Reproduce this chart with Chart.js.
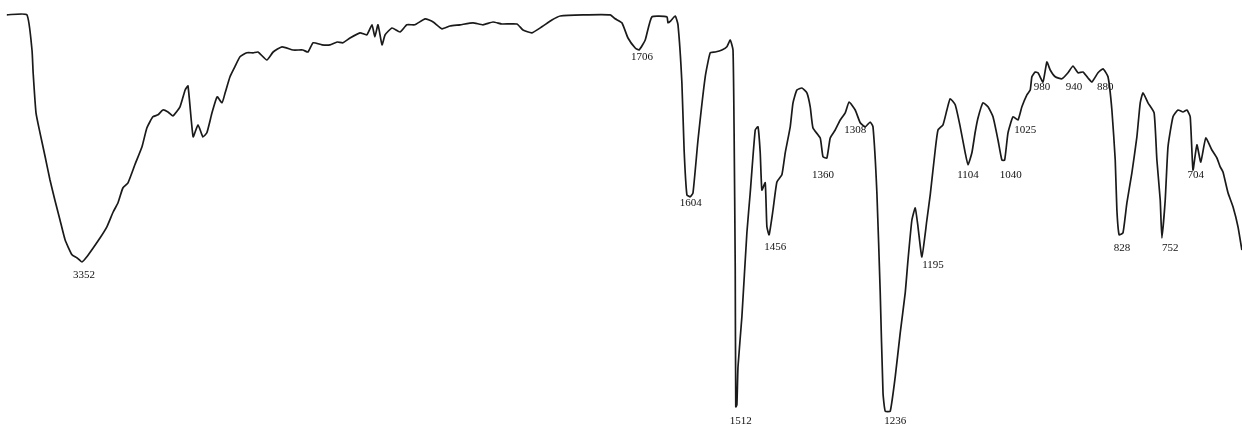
<!DOCTYPE html>
<html>
<head>
<meta charset="utf-8">
<script src="https://cdn.jsdelivr.net/npm/chart.js@4"></script>
<style>
  html, body { margin: 0; padding: 0; background: #fff; }
  #wrap { width: 1242px; height: 426px; }
</style>
</head>
<body>
<div id="wrap"><canvas id="irChart"></canvas></div>
<script>
// wavenumber (cm-1) and transmittance
const wavenumbers = [
  3614, 3544, 3526, 3522, 3512, 3498, 3480, 3463, 3446, 3428, 3410, 3386, 3368, 3351, 3334, 3312,
  3288, 3264, 3242, 3225, 3208, 3190, 3166, 3141, 3124, 3103, 3085, 3068, 3050, 3033, 3008, 2990,
  2980, 2962, 2945, 2928, 2914, 2896, 2878, 2861, 2850, 2833, 2816, 2798, 2774, 2752, 2735, 2704,
  2682, 2651, 2612, 2578, 2560, 2542, 2511, 2483, 2458, 2438, 2413, 2378, 2354, 2336, 2326, 2315,
  2301, 2290, 2266, 2238, 2214, 2186, 2150, 2122, 2091, 2063, 2028, 1991, 1973, 1955, 1939, 1912,
  1901, 1885, 1867, 1849, 1834, 1793, 1744, 1735, 1723, 1712, 1699, 1692, 1681, 1669, 1642, 1640,
  1635, 1627, 1622, 1615, 1611, 1606, 1600, 1595, 1586, 1573, 1564, 1555, 1543, 1534, 1528, 1523,
  1521, 1519, 1518, 1516, 1514, 1507, 1498, 1492, 1483, 1478, 1474, 1471, 1465, 1462, 1458, 1451,
  1444, 1435, 1429, 1420, 1415, 1408, 1399, 1390, 1384, 1379, 1366, 1361, 1354, 1348, 1339, 1330,
  1321, 1314, 1303, 1294, 1285, 1276, 1271, 1264, 1258, 1253, 1249, 1240, 1231, 1222, 1213, 1208,
  1201, 1195, 1190, 1183, 1174, 1168, 1159, 1154, 1145, 1138, 1132, 1123, 1114, 1105, 1100, 1093,
  1087, 1082, 1073, 1064, 1055, 1046, 1039, 1034, 1028, 1019, 1010, 1003, 994, 988, 985, 979,
  974, 965, 958, 952, 943, 931, 920, 911, 902, 893, 884, 877, 866, 857, 848, 841,
  835, 832, 828, 821, 814, 805, 796, 790, 785, 776, 765, 760, 754, 751, 745, 740,
  731, 722, 713, 706, 700, 695, 688, 681, 672, 661, 652, 646, 641, 632, 623, 614, 607
];
const transmittance = [
  98.3, 98.3, 89.5, 83.8, 73.8, 68.8, 62.8, 57.0, 52.0, 47.0, 42.0, 38.3, 37.5, 36.5, 37.8, 40.0,
  42.5, 45.3, 49.0, 51.3, 55.0, 56.3, 60.8, 65.3, 70.0, 72.8, 73.3, 74.5, 74.0, 73.0, 75.3, 79.5,
  80.5, 67.8, 70.8, 67.8, 68.8, 73.8, 77.8, 76.3, 78.8, 82.8, 85.3, 87.8, 88.8, 88.8, 89.0, 87.0,
  89.0, 90.3, 89.5, 89.5, 89.0, 91.3, 90.8, 90.8, 91.5, 91.3, 92.5, 93.8, 93.3, 95.8, 92.8, 95.8,
  90.8, 93.3, 95.0, 94.0, 95.8, 95.8, 97.3, 96.5, 94.8, 95.5, 95.8, 96.3, 95.8, 96.5, 96.0, 96.0,
  94.5, 93.8, 95.3, 97.0, 98.0, 98.3, 98.3, 97.3, 96.3, 92.5, 90.0, 89.5, 92.0, 97.8, 97.8, 96.3,
  96.8, 98.0, 95.8, 81.3, 64.5, 53.3, 52.8, 53.8, 67.0, 82.8, 88.8, 89.0, 89.5, 90.3, 92.0, 89.5,
  68.8, 35.3, 0.3, 0.8, 10.3, 22.8, 43.8, 53.8, 69.5, 70.3, 63.8, 54.5, 56.3, 45.3, 43.3, 49.5,
  56.5, 58.3, 63.8, 70.3, 76.3, 79.5, 80.0, 78.8, 75.3, 70.0, 67.5, 62.8, 62.5, 67.5, 69.5, 72.0,
  73.8, 76.5, 74.5, 71.3, 70.3, 71.5, 70.3, 53.8, 28.8, 3.8, -0.8, -0.8, 7.8, 18.8, 28.8, 37.0,
  47.0, 50.0, 45.3, 37.8, 47.0, 53.3, 64.5, 69.5, 70.8, 74.5, 77.3, 75.8, 70.3, 63.8, 60.8, 63.8,
  69.0, 72.5, 76.3, 75.3, 72.8, 67.0, 62.0, 62.0, 68.8, 72.8, 72.0, 75.3, 78.3, 79.5, 82.8, 84.0,
  83.8, 81.5, 86.5, 84.5, 82.8, 82.3, 83.8, 85.5, 83.8, 84.0, 82.5, 81.5, 83.8, 84.8, 82.8, 74.5,
  62.0, 49.5, 43.3, 43.8, 51.3, 58.8, 67.8, 76.3, 78.8, 76.3, 73.8, 62.0, 52.0, 42.5, 52.0, 65.3,
  72.8, 74.5, 74.0, 74.5, 72.8, 59.5, 65.8, 61.5, 67.5, 64.5, 62.5, 60.3, 59.0, 53.8, 50.3, 45.3, 39.5
];

// peak labels and where their text sits (wavenumber, transmittance)
const peakLabels = ['3352', '1706', '1604', '1512', '1456', '1360', '1308', '1236', '1195',
                    '1104', '1040', '1025', '980', '940', '880', '828', '752', '704'];
const labelWn = [3344, 1687, 1599, 1509, 1447, 1361, 1303, 1231, 1163,
                 1100, 1023, 997, 967, 909, 853, 823, 736, 690];
const labelT = [33.3, 87.8, 51.3, -3.3, 40.3, 58.3, 69.5, -3.3, 35.8,
                58.3, 58.3, 69.5, 80.3, 80.3, 80.3, 40.0, 40.0, 58.3];

// IR chart paper: region above 2000 cm-1 is compressed
const BREAK = 2000, K = 1.8 / 3.5;
function fwd(w) { return w > BREAK ? BREAK + (w - BREAK) * K : w; }
function inv(u) { return u > BREAK ? BREAK + (u - BREAK) / K : u; }

class IrScale extends Chart.LinearScale {
  determineDataLimits() {
    this.min = fwd(this.options.min);
    this.max = fwd(this.options.max);
  }
  buildTicks() { return []; } // axis is hidden, keep min/max as set above
  getPixelForValue(value) { return super.getPixelForValue(fwd(value)); }
  getValueForPixel(pixel) { return inv(super.getValueForPixel(pixel)); }
}
IrScale.id = 'ir';
IrScale.defaults = Chart.LinearScale.defaults;
Chart.register(IrScale);

const peakLabelPlugin = {
  id: 'peakLabels',
  afterDatasetsDraw(chart) {
    const ctx = chart.ctx;
    const xs = chart.scales.x, ys = chart.scales.y;
    ctx.save();
    ctx.font = '11px "Liberation Serif", "DejaVu Serif", serif';
    ctx.fillStyle = '#111';
    ctx.textAlign = 'center';
    ctx.textBaseline = 'middle';
    peakLabels.forEach((txt, i) => {
      ctx.fillText(txt, xs.getPixelForValue(labelWn[i]), ys.getPixelForValue(labelT[i]));
    });
    ctx.restore();
  }
};

const points = wavenumbers.map((w, i) => ({ x: w, y: transmittance[i] }));

new Chart(document.getElementById('irChart').getContext('2d'), {
  type: 'line',
  data: {
    datasets: [{
      label: 'IR spectrum',
      data: points,
      borderColor: '#1a1a1a',
      borderWidth: 1.7,
      pointRadius: 0,
      tension: 0.15,
      fill: false
    }]
  },
  options: {
    responsive: true,
    maintainAspectRatio: false,
    animation: false,
    layout: { padding: 0 },
    plugins: { legend: { display: false }, tooltip: { enabled: false } },
    scales: {
      x: { type: 'ir', min: 606.8, max: 3638, reverse: true, bounds: 'data', display: false },
      y: { type: 'linear', min: -4.5, max: 102, display: false }
    }
  },
  plugins: [peakLabelPlugin]
});
</script>
</body>
</html>
